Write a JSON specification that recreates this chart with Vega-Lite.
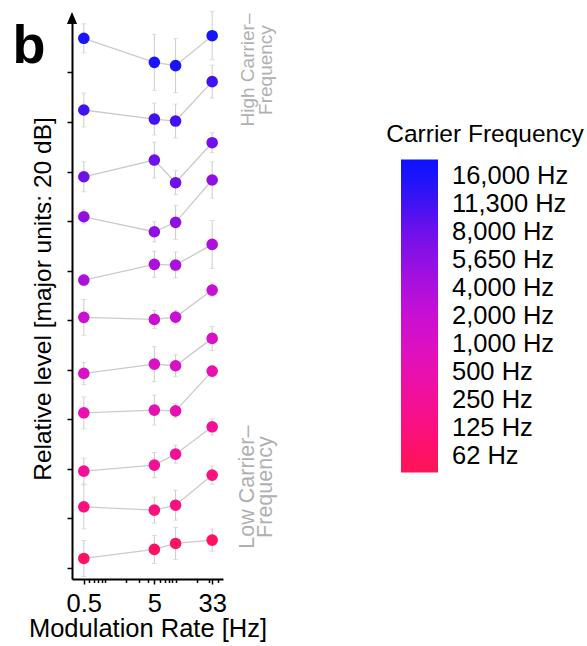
{
  "$schema": "https://vega.github.io/schema/vega-lite/v6.json",
  "width": 151,
  "height": 561,
  "autosize": {"type": "none"},
  "padding": {"left": 72, "top": 18, "right": 364, "bottom": 67},
  "background": "white",
  "config": {
    "font": "Liberation Sans",
    "view": {"stroke": null},
    "axis": {
      "grid": false,
      "domainColor": "black",
      "domainWidth": 2,
      "tickColor": "black",
      "tickWidth": 1.5,
      "labelColor": "black",
      "titleColor": "black",
      "labelFontSize": 25.5,
      "titleFontSize": 25.5,
      "titleFontWeight": "normal"
    }
  },
  "data": {
    "values": [
      {"carrier": "16,000 Hz", "rank": 10, "rate": 0.5, "level": 427.6, "err": 11.7},
      {"carrier": "16,000 Hz", "rank": 10, "rate": 5, "level": 408.2, "err": 22.6},
      {"carrier": "16,000 Hz", "rank": 10, "rate": 10, "level": 405.5, "err": 21.8},
      {"carrier": "16,000 Hz", "rank": 10, "rate": 33, "level": 429.7, "err": 19.4},
      {"carrier": "11,300 Hz", "rank": 9, "rate": 0.5, "level": 369.7, "err": 13.7},
      {"carrier": "11,300 Hz", "rank": 9, "rate": 5, "level": 362.4, "err": 12.9},
      {"carrier": "11,300 Hz", "rank": 9, "rate": 10, "level": 360.8, "err": 13.7},
      {"carrier": "11,300 Hz", "rank": 9, "rate": 33, "level": 392.6, "err": 13.3},
      {"carrier": "8,000 Hz", "rank": 8, "rate": 0.5, "level": 315.8, "err": 12.1},
      {"carrier": "8,000 Hz", "rank": 8, "rate": 5, "level": 329.3, "err": 14.5},
      {"carrier": "8,000 Hz", "rank": 8, "rate": 10, "level": 311.0, "err": 9.7},
      {"carrier": "8,000 Hz", "rank": 8, "rate": 33, "level": 343.3, "err": 8.1},
      {"carrier": "5,650 Hz", "rank": 7, "rate": 0.5, "level": 283.5, "err": 5.7},
      {"carrier": "5,650 Hz", "rank": 7, "rate": 5, "level": 271.4, "err": 8.1},
      {"carrier": "5,650 Hz", "rank": 7, "rate": 10, "level": 279.0, "err": 13.7},
      {"carrier": "5,650 Hz", "rank": 7, "rate": 33, "level": 313.2, "err": 14.5},
      {"carrier": "4,000 Hz", "rank": 6, "rate": 0.5, "level": 232.4, "err": 4.8},
      {"carrier": "4,000 Hz", "rank": 6, "rate": 5, "level": 245.1, "err": 10.5},
      {"carrier": "4,000 Hz", "rank": 6, "rate": 10, "level": 244.5, "err": 10.5},
      {"carrier": "4,000 Hz", "rank": 6, "rate": 33, "level": 261.2, "err": 19.4},
      {"carrier": "2,000 Hz", "rank": 5, "rate": 0.5, "level": 202.3, "err": 14.5},
      {"carrier": "2,000 Hz", "rank": 5, "rate": 5, "level": 200.6, "err": 7.3},
      {"carrier": "2,000 Hz", "rank": 5, "rate": 10, "level": 202.5, "err": 5.7},
      {"carrier": "2,000 Hz", "rank": 5, "rate": 33, "level": 224.3, "err": 5.7},
      {"carrier": "1,000 Hz", "rank": 4, "rate": 0.5, "level": 157.0, "err": 8.9},
      {"carrier": "1,000 Hz", "rank": 4, "rate": 5, "level": 164.5, "err": 14.1},
      {"carrier": "1,000 Hz", "rank": 4, "rate": 10, "level": 163.2, "err": 8.9},
      {"carrier": "1,000 Hz", "rank": 4, "rate": 33, "level": 185.3, "err": 9.7},
      {"carrier": "500 Hz", "rank": 3, "rate": 0.5, "level": 125.2, "err": 12.9},
      {"carrier": "500 Hz", "rank": 3, "rate": 5, "level": 127.4, "err": 12.1},
      {"carrier": "500 Hz", "rank": 3, "rate": 10, "level": 126.8, "err": 5.7},
      {"carrier": "500 Hz", "rank": 3, "rate": 33, "level": 158.9, "err": 4.8},
      {"carrier": "250 Hz", "rank": 2, "rate": 0.5, "level": 78.1, "err": 10.5},
      {"carrier": "250 Hz", "rank": 2, "rate": 5, "level": 83.0, "err": 10.1},
      {"carrier": "250 Hz", "rank": 2, "rate": 10, "level": 91.8, "err": 7.3},
      {"carrier": "250 Hz", "rank": 2, "rate": 33, "level": 113.9, "err": 6.5},
      {"carrier": "125 Hz", "rank": 1, "rate": 0.5, "level": 49.3, "err": 17.8},
      {"carrier": "125 Hz", "rank": 1, "rate": 5, "level": 46.6, "err": 10.5},
      {"carrier": "125 Hz", "rank": 1, "rate": 10, "level": 50.6, "err": 12.1},
      {"carrier": "125 Hz", "rank": 1, "rate": 33, "level": 74.9, "err": 7.3},
      {"carrier": "62 Hz", "rank": 0, "rate": 0.5, "level": 7.6, "err": 14.5},
      {"carrier": "62 Hz", "rank": 0, "rate": 5, "level": 14.9, "err": 11.3},
      {"carrier": "62 Hz", "rank": 0, "rate": 10, "level": 19.7, "err": 12.9},
      {"carrier": "62 Hz", "rank": 0, "rate": 33, "level": 22.4, "err": 8.9}
    ]
  },
  "layer": [
    {
      "mark": {
        "type": "errorbar",
        "ticks": {"size": 5, "color": "#d2d2c8", "strokeWidth": 1},
        "rule": {"color": "#cccccc", "strokeWidth": 1}
      },
      "encoding": {
        "x": {"field": "rate", "type": "quantitative", "title": "Modulation Rate [Hz]"},
        "y": {"field": "level", "type": "quantitative", "title": "Relative level [major units: 20 dB]"},
        "yError": {"field": "err"}
      }
    },
    {
      "mark": {"type": "line", "color": "#cbcbcb", "strokeWidth": 1.3},
      "encoding": {
        "x": {"field": "rate", "type": "quantitative", "title": "Modulation Rate [Hz]"},
        "y": {"field": "level", "type": "quantitative", "title": "Relative level [major units: 20 dB]"},
        "detail": {"field": "carrier"}
      }
    },
    {
      "mark": {"type": "circle", "size": 135, "opacity": 1},
      "encoding": {
        "x": {
          "field": "rate",
          "type": "quantitative",
          "title": "Modulation Rate [Hz]",
          "scale": {"type": "log", "domain": [0.34, 47], "nice": false},
          "axis": {
            "values": [0.5, 0.6, 0.7, 0.8, 0.9, 1, 2, 3, 4, 5, 6, 7, 8, 9, 10, 20, 30, 33, 40],
            "labelExpr": "datum.value == 0.5 ? '0.5' : datum.value == 5 ? '5' : datum.value == 33 ? '33' : ''",
            "tickSize": {"condition": {"test": "datum.value == 0.5 || datum.value == 5 || datum.value == 33", "value": 5}, "value": 3.5},
            "labelPadding": 7,
            "labelOverlap": false,
            "labelFlush": false,
            "titlePadding": 0
          }
        },
        "y": {
          "field": "level",
          "type": "quantitative",
          "title": "Relative level [major units: 20 dB]",
          "scale": {"domain": [-9, 444], "nice": false, "zero": false},
          "axis": {
            "values": [0, 20, 40, 60, 80, 100, 120, 140, 160, 180, 200, 220, 240, 260, 280, 300, 320, 340, 360, 380, 400, 420],
            "labels": false,
            "tickSize": 5,
            "titleFontSize": 24.5,
            "titlePadding": 11
          }
        },
        "color": {
          "field": "rank",
          "type": "quantitative",
          "scale": {
            "domain": [-0.6, 0, 1, 2, 3, 4, 5, 6, 7, 8, 9, 10, 10.6],
            "range": ["#ff1458", "#ff1262", "#fa1080", "#f21098", "#e810b0", "#da10c4", "#c810d2", "#ae10dc", "#9010e4", "#7010ea", "#4212f2", "#1a14fa", "#1010ff"]
          },
          "legend": {
            "title": "Carrier Frequency",
            "orient": "none",
            "legendX": 314,
            "legendY": 105,
            "direction": "vertical",
            "padding": 0,
            "gradientLength": 313,
            "gradientThickness": 37,
            "gradientStrokeWidth": 0,
            "values": [0, 1, 2, 3, 4, 5, 6, 7, 8, 9, 10],
            "labelExpr": "['62 Hz', '125 Hz', '250 Hz', '500 Hz', '1,000 Hz', '2,000 Hz', '4,000 Hz', '5,650 Hz', '8,000 Hz', '11,300 Hz', '16,000 Hz'][datum.value]",
            "labelFontSize": 25.5,
            "labelColor": "black",
            "labelOffset": 14,
            "labelOverlap": false,
            "labelLimit": 300,
            "labelBaseline": "middle",
            "titleFontSize": 24.5,
            "titleFontWeight": "normal",
            "titleColor": "black",
            "titleLimit": 400,
            "titleAnchor": "middle",
            "titleAlign": "center",
            "titlePadding": 12
          }
        }
      }
    },
    {
      "data": {"values": [{}]},
      "mark": {"type": "point", "shape": "M0,-1L0.85,1L-0.85,1Z", "filled": true, "color": "black", "opacity": 1, "size": 144, "clip": false},
      "encoding": {
        "x": {"datum": 0.34, "type": "quantitative"},
        "y": {"datum": 444, "type": "quantitative"}
      }
    },
    {
      "data": {"values": [{}]},
      "mark": {"type": "text", "text": "b", "fontSize": 54, "fontWeight": "bold", "color": "black", "align": "center", "baseline": "alphabetic", "clip": false},
      "encoding": {
        "x": {"datum": 0.0835, "type": "quantitative"},
        "y": {"datum": 407.7, "type": "quantitative"}
      }
    },
    {
      "data": {"values": [{}]},
      "mark": {"type": "text", "text": ["High Carrier\u2013", "Frequency"], "fontSize": 19, "lineHeight": 18, "angle": 270, "color": "#b0b0b0", "align": "center", "baseline": "middle", "clip": false},
      "encoding": {
        "x": {"datum": 106, "type": "quantitative"},
        "y": {"datum": 402, "type": "quantitative"}
      }
    },
    {
      "data": {"values": [{}]},
      "mark": {"type": "text", "text": ["Low Carrier\u2013", "Frequency"], "fontSize": 21.5, "lineHeight": 18, "angle": 270, "color": "#b0b0b0", "align": "center", "baseline": "middle", "clip": false},
      "encoding": {
        "x": {"datum": 106, "type": "quantitative"},
        "y": {"datum": 65.2, "type": "quantitative"}
      }
    }
  ]
}
